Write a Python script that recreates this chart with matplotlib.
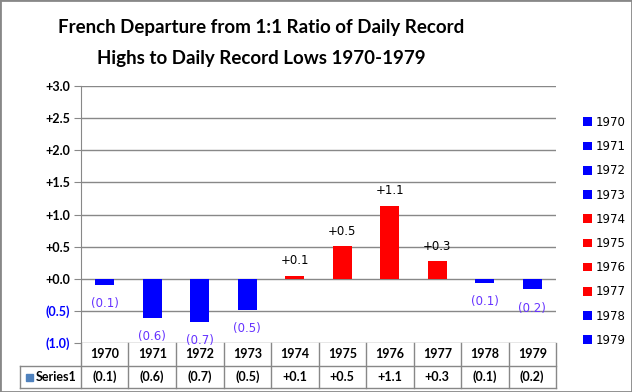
import numpy as np
import matplotlib.pyplot as plt
from matplotlib.patches import Rectangle
from matplotlib.lines import Line2D

years = ['1970', '1971', '1972', '1973', '1974', '1975', '1976', '1977', '1978', '1979']
values = [-0.09, -0.61, -0.67, -0.48, 0.05, 0.51, 1.14, 0.27, -0.06, -0.16]
ticks = [-1.0, -0.5, 0.0, 0.5, 1.0, 1.5, 2.0, 2.5, 3.0]


def fmt(v):
    if v < 0:
        return '(%.1f)' % abs(v)
    return '+%.1f' % v


blue = '#0000FF'
red = '#FF0000'
lblue = '#6633FF'
colors = [red if v > 0 else blue for v in values]

fig = plt.figure(figsize=(6.32, 3.92), dpi=100)
fig.patches.append(Rectangle((0, 0), 1, 1, transform=fig.transFigure, fill=False,
                             edgecolor='#888888', lw=2))

L, R, B, T = 81 / 632, 556 / 632, 1 - 343 / 392, 1 - 86 / 392
ax = fig.add_axes([L, B, R - L, T - B])

x = np.arange(len(years))
for i in range(len(years)):
    ax.bar(x[i], values[i], width=0.4, color=colors[i], label=years[i], zorder=3)
    if values[i] < 0:
        ax.annotate(fmt(values[i]), (x[i], values[i]), xytext=(0, -9),
                    textcoords='offset points', ha='center', va='top',
                    color=lblue, fontsize=8.5, family='DejaVu Sans')
    else:
        ax.annotate(fmt(values[i]), (x[i], values[i]), xytext=(0, 6),
                    textcoords='offset points', ha='center', va='bottom',
                    color='black', fontsize=8.5, family='DejaVu Sans')

ax.set_xlim(-0.5, len(years) - 0.5)
ax.set_ylim(-1.0, 3.0)
ax.set_yticks(ticks)
ax.set_yticklabels([fmt(t) for t in ticks], fontweight='bold', fontsize=9, family='Lato')
for lab, t in zip(ax.get_yticklabels(), ticks):
    if t < 0:
        lab.set_color(blue)
ax.set_xticks([])
ax.grid(axis='y', color='#888888', lw=1, zorder=0)
for s in ['top', 'right', 'bottom']:
    ax.spines[s].set_visible(False)
ax.spines['left'].set_color('#888888')
ax.tick_params(axis='y', length=5, color='#888888', pad=3)

# data table below the plot
tc = '#888888'
row1, row2, row3 = 1 - 343 / 392, 1 - 366 / 392, 1 - 388 / 392
lab_left = 20 / 632
cw = (R - L) / len(years)
fig.add_artist(Line2D([lab_left, R], [row2, row2], color=tc, lw=1))
fig.add_artist(Line2D([lab_left, R], [row3, row3], color=tc, lw=1))
fig.add_artist(Line2D([lab_left, lab_left], [row3, row2], color=tc, lw=1))
for k in range(len(years) + 1):
    fig.add_artist(Line2D([L + k * cw, L + k * cw], [row3, row1], color=tc, lw=1))
for i in range(len(years)):
    cx = L + (i + 0.5) * cw
    fig.text(cx, (row1 + row2) / 2, years[i], ha='center', va='center',
             fontsize=9, fontweight='bold', family='Lato')
    fig.text(cx, (row2 + row3) / 2, fmt(values[i]), ha='center', va='center',
             fontsize=9, fontweight='bold', family='Lato')
fig.patches.append(Rectangle((26 / 632, (row2 + row3) / 2 - 3.5 / 392), 7 / 632, 7 / 392,
                             transform=fig.transFigure, color='#4F81BD'))
fig.text(36 / 632, (row2 + row3) / 2, 'Series1', ha='left', va='center',
         fontsize=9, fontweight='bold', family='Lato')

fig.suptitle('French Departure from 1:1 Ratio of Daily Record\nHighs to Daily Record Lows 1970-1979',
             x=261 / 632, y=0.952, fontsize=13.5, fontweight='bold', family='Lato',
             linespacing=2.0)

leg = ax.legend(loc='upper left', bbox_to_anchor=(1.035, 0.925), frameon=False,
                handlelength=0.75, handleheight=0.75, handletextpad=0.3,
                labelspacing=0.95, prop={'family': 'DejaVu Sans', 'size': 8.5})

fig.savefig('out.png', dpi=100)
